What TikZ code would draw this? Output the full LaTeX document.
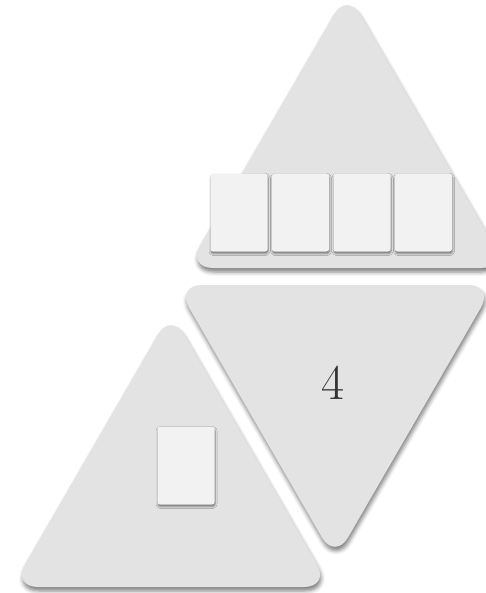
\documentclass[tikz,border=0pt]{standalone}
\usepackage{tikz}
\usepackage{xcolor}
\usetikzlibrary{positioning,shadows.blur}
\definecolor{trifill}{HTML}{E3E3E3}
\definecolor{cardfill}{HTML}{F2F2F2}
\definecolor{digit}{HTML}{333333}

\begin{document}
\begin{tikzpicture}[
  x=1pt,y=-1pt,
  tri/.style={fill=trifill,rounded corners=26pt,
  blur shadow={shadow xshift=1pt,shadow yshift=-4pt,shadow blur radius=4pt,shadow opacity=50}},
  card/.style={fill=cardfill,rounded corners=2.5pt,minimum width=57pt,minimum height=78pt,
  inner sep=0pt,blur shadow={shadow xshift=0.5pt,shadow yshift=-2pt,shadow blur radius=2pt,shadow opacity=50}},
  num/.style={font=\fontsize{50}{56}\selectfont,text=digit}
]
\useasboundingbox (0,0) rectangle (485,593);
\path[tri] (12,587) -- (171,312) -- (330,587) -- cycle;
\path[tri] (176,285) -- (494,285) -- (335,560) -- cycle;
\path[tri] (187,268) -- (347,-8) -- (507,268) -- cycle;
\foreach \i in {1,...,4}
  \node[card] (top\i) at ({177.5+61.5*\i},212.5) {};
\node[card] (low) at (186,465.5) {};
\node[num] (count) at (333,383) {4};
\end{tikzpicture}
\end{document}
